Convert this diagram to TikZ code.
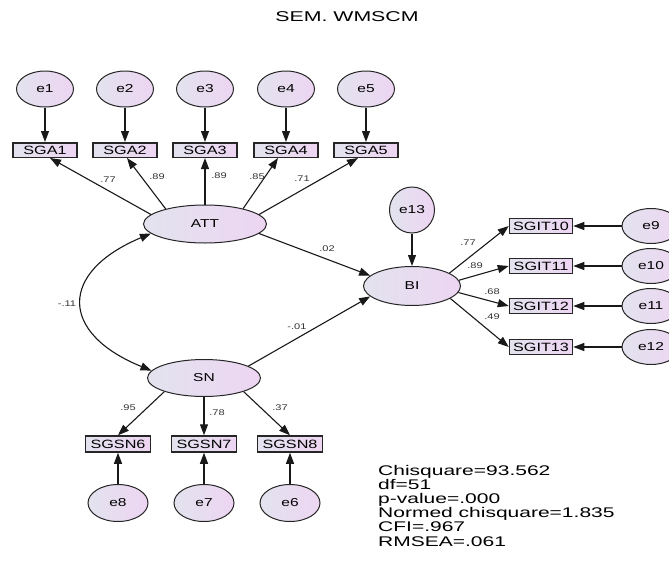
\documentclass[tikz,border=0pt]{standalone}
\usepackage{fontspec}
\setmainfont{Liberation Sans}[FakeStretch=1.35]
\newfontfamily\widefont{Liberation Sans}[FakeStretch=1.5]
\usetikzlibrary{shapes.geometric,arrows.meta}
\definecolor{cA}{HTML}{E3E3EE}
\definecolor{cB}{HTML}{EDD5F2}
\begin{document}
\begin{tikzpicture}[x=1pt,y=-1pt,
  gradfill/.style={left color=cA, right color=cB},
  latent/.style={ellipse, draw=black!85, line width=1pt, gradfill, inner sep=0pt, font=\fontsize{11.5}{11.5}\selectfont},
  errv/.style={ellipse, draw=black!85, line width=1pt, gradfill, inner sep=0pt, minimum width=57pt, minimum height=36pt, font=\fontsize{11.5}{11.5}\selectfont},
  obsv/.style={rectangle, draw=black!85, line width=1.5pt, gradfill, inner sep=0pt, minimum width=64pt, minimum height=14.5pt, font=\fontsize{12}{12}\selectfont},
  arr/.style={-{Triangle[length=11pt,width=8pt]}, line width=1.1pt, black!90},
  dblarr/.style={{Triangle[length=11pt,width=8pt]}-{Triangle[length=11pt,width=8pt]}, line width=1.1pt, black!90},
  coef/.style={font=\fontsize{8.2}{8.2}\selectfont, text=black!80, inner sep=0pt}]
\useasboundingbox (0,0) rectangle (669,562);
\clip (0,0) rectangle (669,562);

% title
\node[font=\widefont\fontsize{14.2}{14.2}\selectfont] (title) at (347,17) {SEM. WMSCM};

% ATT block
\node[errv] (e1) at (45,89) {e1};
\node[errv] (e2) at (125,89) {e2};
\node[errv] (e3) at (205,89) {e3};
\node[errv] (e4) at (286,89) {e4};
\node[errv] (e5) at (366,89) {e5};
\node[obsv] (SGA1) at (45,150) {SGA1};
\node[obsv] (SGA2) at (125,150) {SGA2};
\node[obsv] (SGA3) at (205,150) {SGA3};
\node[obsv] (SGA4) at (286,150) {SGA4};
\node[obsv] (SGA5) at (366,150) {SGA5};
\node[latent, minimum width=123pt, minimum height=38pt] (ATT) at (205,224) {ATT};

% BI block
\node[errv, minimum width=45pt, minimum height=46pt] (e13) at (412,210) {e13};
\node[latent, minimum width=97pt, minimum height=39pt] (BI) at (412,286) {BI};
\node[obsv, minimum width=63pt, minimum height=15pt] (SGIT10) at (541,226) {SGIT10};
\node[obsv, minimum width=63pt, minimum height=15pt] (SGIT11) at (541,266) {SGIT11};
\node[obsv, minimum width=63pt, minimum height=15pt] (SGIT12) at (541,306) {SGIT12};
\node[obsv, minimum width=63pt, minimum height=15pt] (SGIT13) at (541,347) {SGIT13};
\node[errv, minimum width=58pt, minimum height=35pt] (e9) at (651,226) {e9};
\node[errv, minimum width=58pt, minimum height=35pt] (e10) at (651,266) {e10};
\node[errv, minimum width=58pt, minimum height=35pt] (e11) at (651,306) {e11};
\node[errv, minimum width=58pt, minimum height=35pt] (e12) at (651,347) {e12};

% SN block
\node[latent, minimum width=113pt, minimum height=37pt] (SN) at (204,378) {SN};
\node[obsv, minimum width=65pt, minimum height=16pt] (SGSN6) at (118,444) {SGSN6};
\node[obsv, minimum width=65pt, minimum height=16pt] (SGSN7) at (204,444) {SGSN7};
\node[obsv, minimum width=65pt, minimum height=16pt] (SGSN8) at (290,444) {SGSN8};
\node[errv, minimum width=60pt, minimum height=37pt] (e8) at (118,503) {e8};
\node[errv, minimum width=60pt, minimum height=37pt] (e7) at (204,503) {e7};
\node[errv, minimum width=60pt, minimum height=37pt] (e6) at (290,503) {e6};

% error arrows
\foreach \i in {1,...,5} \draw[arr] (e\i) -- (SGA\i);
\draw[arr] (e13) -- (BI);
\draw[arr] (e9) -- (SGIT10);
\draw[arr] (e10) -- (SGIT11);
\draw[arr] (e11) -- (SGIT12);
\draw[arr] (e12) -- (SGIT13);
\draw[arr] (e8) -- (SGSN6);
\draw[arr] (e7) -- (SGSN7);
\draw[arr] (e6) -- (SGSN8);

% loadings ATT
\draw[arr] (ATT.170) -- ([xshift=5pt]SGA1.south);
\draw[arr] (ATT.159) -- ([xshift=2pt]SGA2.south);
\draw[arr] (ATT.north) -- (SGA3.south);
\draw[arr] (ATT.22) -- ([xshift=-8pt]SGA4.south);
\draw[arr] (ATT.10) -- ([xshift=-8pt]SGA5.south);

% structural paths
\draw[arr] (ATT.-10) -- (BI.166);
\draw[arr] (SN.15) -- (BI.194);

% loadings BI
\draw[arr] (BI.19) -- (SGIT10.west);
\draw[arr] (BI.7) -- (SGIT11.west);
\draw[arr] (BI.-8) -- (SGIT12.west);
\draw[arr] (BI.-18) -- (SGIT13.west);

% loadings SN
\draw[arr] (SN.199) -- (SGSN6.north);
\draw[arr] (SN.south) -- (SGSN7.north);
\draw[arr] (SN.-19) -- (SGSN8.north);

% covariance
\draw[dblarr] (ATT.190) .. controls (59,272) and (59,333) .. (SN.172);

% coefficients
\node[coef] (c1) at (108,180) {.77};
\node[coef] (c2) at (157,177) {.89};
\node[coef] (c3) at (219,176) {.89};
\node[coef] (c4) at (257,177) {.85};
\node[coef] (c5) at (302,179) {.71};
\node[coef] (c6) at (327,249) {.02};
\node[coef] (c7) at (297,327) {-.01};
\node[coef] (c8) at (67,304) {-.11};
\node[coef] (c9) at (128,408) {.95};
\node[coef] (c10) at (217,413) {.78};
\node[coef] (c11) at (280,408) {.37};
\node[coef] (c12) at (468,243) {.77};
\node[coef] (c13) at (475,266) {.89};
\node[coef] (c14) at (492,292) {.68};
\node[coef] (c15) at (492,317) {.49};

% fit statistics
\node[anchor=north west, inner sep=0pt, align=left, font=\widefont\fontsize{14}{14.2}\selectfont] (fit) at (378,464.8)
  {Chisquare=93.562\\df=51\\p-value=.000\\Normed chisquare=1.835\\CFI=.967\\RMSEA=.061};
\end{tikzpicture}
\end{document}
